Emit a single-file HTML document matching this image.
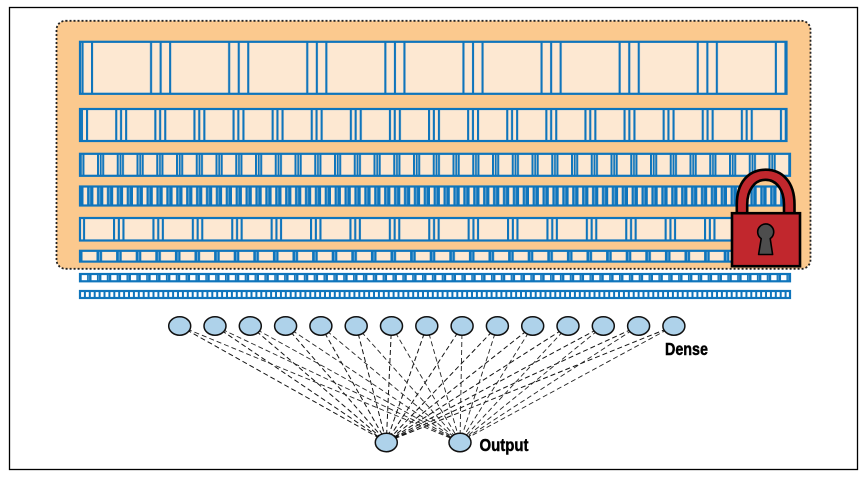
<!DOCTYPE html>
<html><head><meta charset="utf-8"><title>Locked layers diagram</title>
<style>html,body{margin:0;padding:0;background:#fff;width:868px;height:477px;overflow:hidden}svg{display:block}text{font-family:"Liberation Sans",sans-serif;font-weight:bold;fill:#000;stroke:#000;stroke-width:.45}.soft{filter:blur(.3px)}</style></head>
<body>
<svg width="868" height="477" viewBox="0 0 868 477" xmlns="http://www.w3.org/2000/svg">
<defs>
<pattern id="p1" patternUnits="userSpaceOnUse" x="91" y="0" width="78.1" height="10"><rect width="78.1" height="10" fill="#fde8d2"/><rect x="0" width="2.1" height="10" fill="#0f75bc"/><rect x="59" width="2.1" height="10" fill="#0f75bc"/><rect x="68.6" width="2.1" height="10" fill="#0f75bc"/></pattern>
<pattern id="p2" patternUnits="userSpaceOnUse" x="86" y="0" width="39.1" height="10"><rect width="39.1" height="10" fill="#fde8d2"/><rect x="0" width="2.1" height="10" fill="#0f75bc"/><rect x="29.2" width="2.1" height="10" fill="#0f75bc"/><rect x="34" width="2.1" height="10" fill="#0f75bc"/></pattern>
<pattern id="p3" patternUnits="userSpaceOnUse" x="97" y="0" width="19.75" height="10"><rect width="19.75" height="10" fill="#fde8d2"/><rect x="0" width="2" height="10" fill="#0f75bc"/><rect x="2.8" width="1.8" height="10" fill="#0f75bc"/><rect x="5.2" width="2" height="10" fill="#0f75bc"/></pattern>
<pattern id="p4" patternUnits="userSpaceOnUse" x="83.5" y="0" width="9.9" height="10"><rect width="9.9" height="10" fill="#0f75bc"/><rect x="0" width="3.6" height="10" fill="#fde8d2"/><rect x="5.6" width="1.2" height="10" fill="#5f9fcb"/></pattern>
<pattern id="p5" patternUnits="userSpaceOnUse" x="113" y="0" width="39.4" height="10"><rect width="39.4" height="10" fill="#fde8d2"/><rect x="0" width="2.1" height="10" fill="#0f75bc"/><rect x="4.8" width="2.1" height="10" fill="#0f75bc"/><rect x="9.4" width="2.1" height="10" fill="#0f75bc"/></pattern>
<pattern id="p6" patternUnits="userSpaceOnUse" x="96.5" y="0" width="19.6" height="10"><rect width="19.6" height="10" fill="#fde8d2"/><rect x="0" width="5.6" height="10" fill="#0f75bc"/><rect x="2.6" width="0.9" height="10" fill="#7fb3d8"/></pattern>
<pattern id="p7" patternUnits="userSpaceOnUse" x="81.7" y="0" width="9.85" height="10"><rect width="9.85" height="10" fill="#0f75bc"/><rect x="0" width="5.4" height="10" fill="#fff"/><rect x="6.6" width="1" height="10" fill="#5f9fcb"/></pattern>
<pattern id="p8" patternUnits="userSpaceOnUse" x="81" y="0" width="4.9" height="10"><rect width="4.9" height="10" fill="#0f75bc"/><rect x="0" width="2.9" height="10" fill="#fff"/></pattern>
</defs>

<rect x="9.5" y="7.5" width="848" height="462" fill="#fff" stroke="#000" stroke-width="1.3"/>

<rect x="56.5" y="20.8" width="754" height="248" rx="9" ry="9" fill="#fbc98e" stroke="#222" stroke-width="1.8" stroke-dasharray="2 2"/>

<g stroke="#0f75bc" stroke-width="2.2" class="soft">
<rect x="80" y="41.8" width="706.5" height="52" fill="url(#p1)"/>
<rect x="80" y="109" width="706.5" height="32" fill="url(#p2)"/>
<rect x="80" y="153.8" width="710" height="22" fill="url(#p3)"/>
<rect x="80" y="186.5" width="703" height="19" fill="url(#p4)"/>
<rect x="80" y="218" width="703" height="22.5" fill="url(#p5)"/>
<rect x="80" y="250.8" width="703" height="10.8" fill="url(#p6)"/>
<rect x="80" y="274" width="710" height="7.3" fill="url(#p7)"/>
<rect x="80" y="291" width="710" height="7" fill="url(#p8)"/>
</g>

<path fill="none" stroke="#c1272d" stroke-width="11.5" d="M741.8 213V204.5C741.8 186 752 174.7 765.6 174.7C779.2 174.7 789.5 186 789.5 204.5V213"/>
<path fill="none" stroke="#000" stroke-width="2.6" d="M736.8 213V204.5C736.8 182 749 169.7 765.6 169.7C782.2 169.7 794.5 182 794.5 204.5V213M747.2 213V204.5C747.2 190 754.5 179.8 765.6 179.8C776.7 179.8 784 190 784 204.5V213"/>
<rect x="732" y="213.2" width="68" height="53" fill="#c1272d" stroke="#000" stroke-width="2.6"/>
<path d="M761.2 238.6A8 8 0 1 1 770.2 238.6L772.6 254.5H758.6Z" fill="#4d4d4d" stroke="#000" stroke-width="1.6" stroke-linejoin="round"/>

<path fill="none" stroke="#111" stroke-width="1" stroke-dasharray="5 3" d="M179.7 326L386.3 442M215 326L386.3 442M250.3 326L386.3 442M285.6 326L386.3 442M320.9 326L386.3 442M356.2 326L386.3 442M391.5 326L386.3 442M426.8 326L386.3 442M462.1 326L386.3 442M497.4 326L386.3 442M532.7 326L386.3 442M568 326L386.3 442M603.3 326L386.3 442M638.6 326L386.3 442M673.9 326L386.3 442"/>
<path fill="none" stroke="#222" stroke-width="0.9" stroke-dasharray="5 3" d="M179.7 326L460 442M215 326L460 442M250.3 326L460 442M285.6 326L460 442M320.9 326L460 442M356.2 326L460 442M391.5 326L460 442M426.8 326L460 442M462.1 326L460 442M497.4 326L460 442M532.7 326L460 442M568 326L460 442M603.3 326L460 442M638.6 326L460 442M673.9 326L460 442"/>

<g fill="#aed2ea" stroke="#111" stroke-width="1.5">
<ellipse cx="179.7" cy="326" rx="11" ry="9.2"/>
<ellipse cx="215" cy="326" rx="11" ry="9.2"/>
<ellipse cx="250.3" cy="326" rx="11" ry="9.2"/>
<ellipse cx="285.6" cy="326" rx="11" ry="9.2"/>
<ellipse cx="320.9" cy="326" rx="11" ry="9.2"/>
<ellipse cx="356.2" cy="326" rx="11" ry="9.2"/>
<ellipse cx="391.5" cy="326" rx="11" ry="9.2"/>
<ellipse cx="426.8" cy="326" rx="11" ry="9.2"/>
<ellipse cx="462.1" cy="326" rx="11" ry="9.2"/>
<ellipse cx="497.4" cy="326" rx="11" ry="9.2"/>
<ellipse cx="532.7" cy="326" rx="11" ry="9.2"/>
<ellipse cx="568" cy="326" rx="11" ry="9.2"/>
<ellipse cx="603.3" cy="326" rx="11" ry="9.2"/>
<ellipse cx="638.6" cy="326" rx="11" ry="9.2"/>
<ellipse cx="673.9" cy="326" rx="11" ry="9.2"/>
<ellipse cx="386.3" cy="442.5" rx="11" ry="9.2"/>
<ellipse cx="460" cy="442.5" rx="11" ry="9.2"/>
</g>

<text x="665" y="355" font-size="17.5" textLength="43" lengthAdjust="spacingAndGlyphs">Dense</text>
<text x="479.5" y="451" font-size="17.5" textLength="49" lengthAdjust="spacingAndGlyphs">Output</text>
</svg>
</body></html>
